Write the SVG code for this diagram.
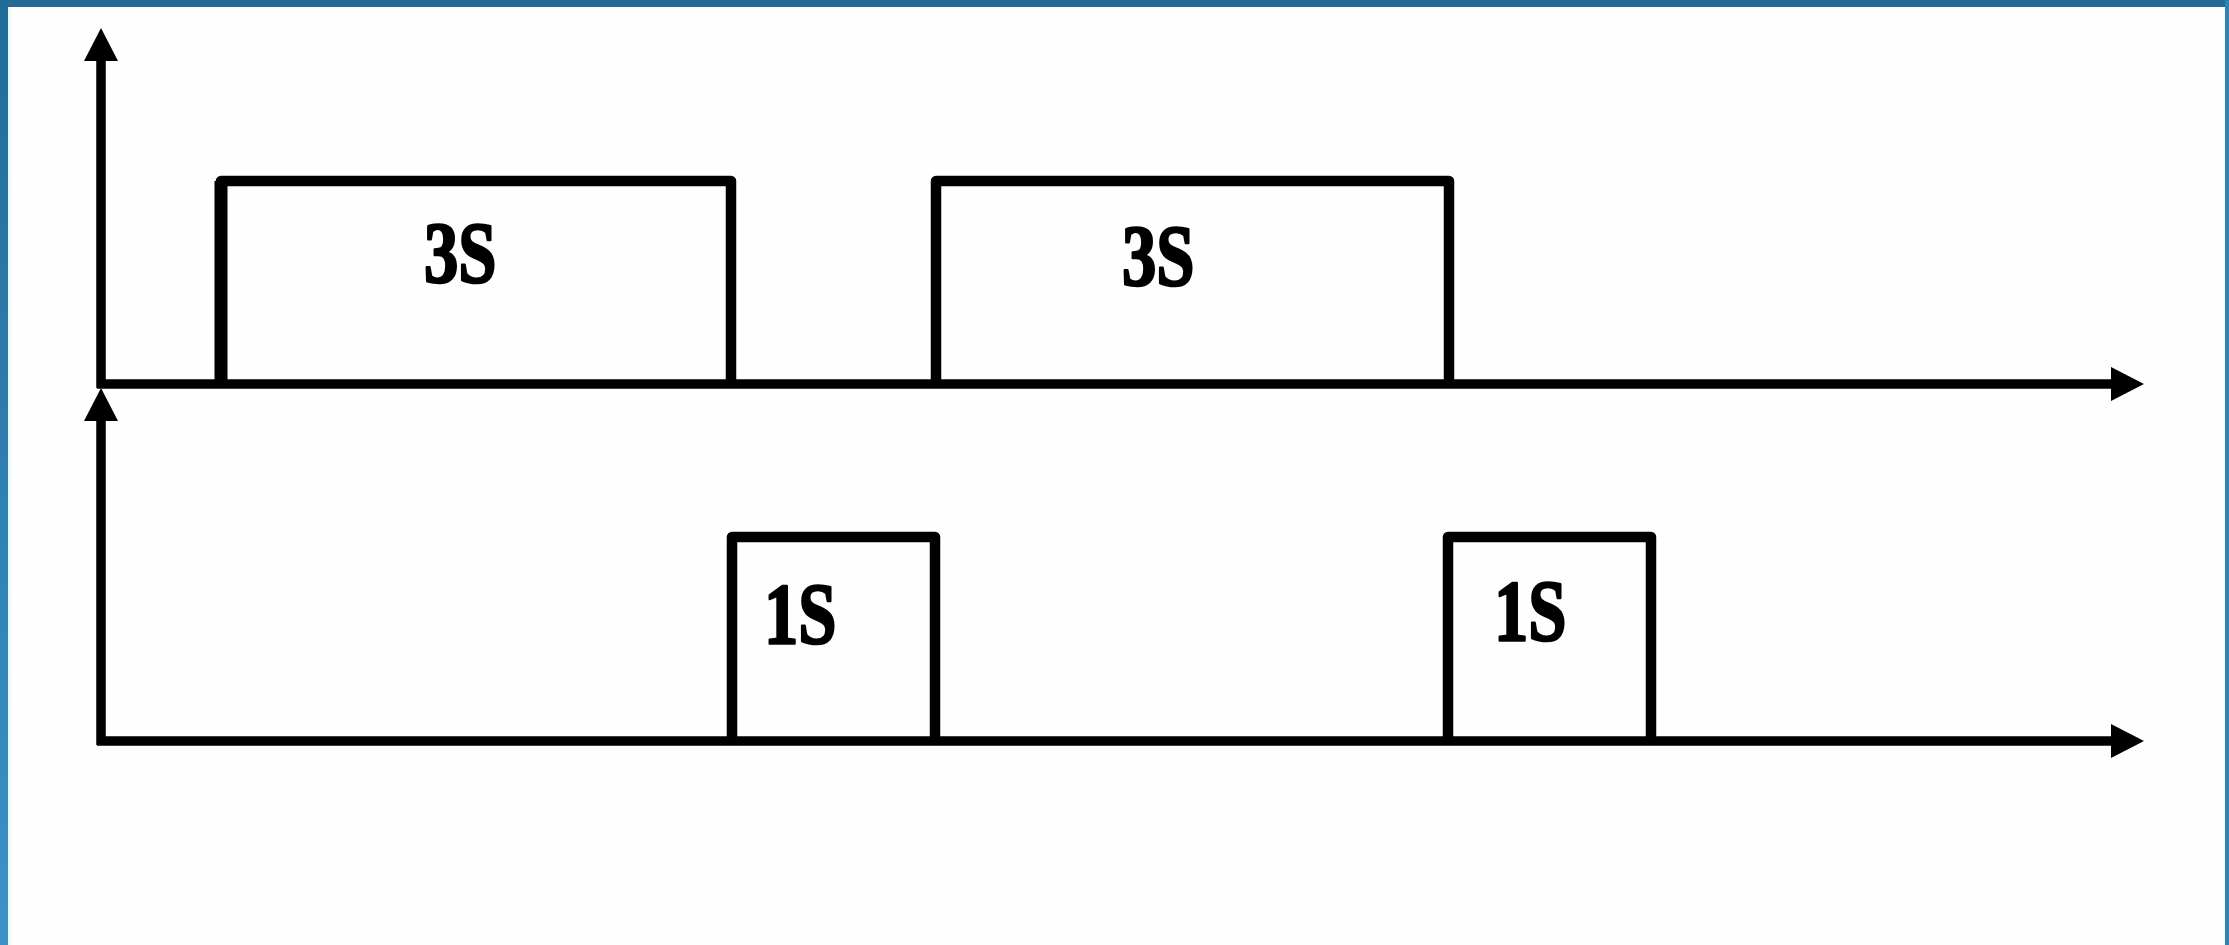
<svg xmlns="http://www.w3.org/2000/svg" width="2229" height="945" viewBox="0 0 2229 945">
  <style>
    .axis { fill: none; stroke: #000; stroke-width: 9.5; stroke-linecap: butt; }
    .pulse { fill: none; stroke: #000; stroke-width: 10.5; stroke-linejoin: round; }
    .lbl { font-family: "Liberation Serif", "Times New Roman", serif; font-weight: bold; font-size: 87px; fill: #000; stroke: #000; stroke-width: 2.5; stroke-linejoin: round; }
  </style>
  <defs>
    <marker id="arrow" viewBox="0 0 33 34" refX="1" refY="17" markerWidth="33" markerHeight="34" markerUnits="userSpaceOnUse" orient="auto">
      <path d="M0,0 L33,17 L0,34 Z" fill="#000"/>
    </marker>
    <linearGradient id="leftband" x1="0" y1="0" x2="0" y2="1">
      <stop offset="0" stop-color="#216c97"/>
      <stop offset="1" stop-color="#3b93c8"/>
    </linearGradient>
  </defs>

  <rect x="0" y="0" width="2229" height="945" fill="#fefefe"/>
  <g id="frame">
    <rect x="0" y="0" width="2229" height="7" fill="#216b95"/>
    <rect x="0" y="0" width="8" height="945" fill="url(#leftband)"/>
    <rect x="8" y="7" width="3" height="938" fill="#eaf7fd"/>
    <rect x="2225" y="0" width="4" height="945" fill="#2f82b4"/>
  </g>

  <g id="connectors">
    <path class="axis" d="M101,388 V60" marker-end="url(#arrow)"/>
    <path class="axis" d="M97,384 H2112" marker-end="url(#arrow)"/>
    <path class="axis" d="M101,745 V420" marker-end="url(#arrow)"/>
    <path class="axis" d="M97,741 H2112" marker-end="url(#arrow)"/>
  </g>

  <g id="pulse-3s-1">
    <path class="pulse" d="M221,384 V181 H731 V384"/>
    <path d="M221,388 V181" stroke="#000" stroke-width="13" fill="none"/>
    <text class="lbl" transform="translate(424,282) scale(0.79,1)">3S</text>
  </g>
  <g id="pulse-3s-2">
    <path class="pulse" d="M936,384 V181 H1449 V384"/>
    <text class="lbl" transform="translate(1122,285) scale(0.79,1)">3S</text>
  </g>
  <g id="pulse-1s-1">
    <path class="pulse" d="M732,741 V537 H935 V741"/>
    <text class="lbl" transform="translate(764,643) scale(0.79,1)">1S</text>
  </g>
  <g id="pulse-1s-2">
    <path class="pulse" d="M1448,741 V537 H1651 V741"/>
    <text class="lbl" transform="translate(1494,640) scale(0.79,1)">1S</text>
  </g>
</svg>
